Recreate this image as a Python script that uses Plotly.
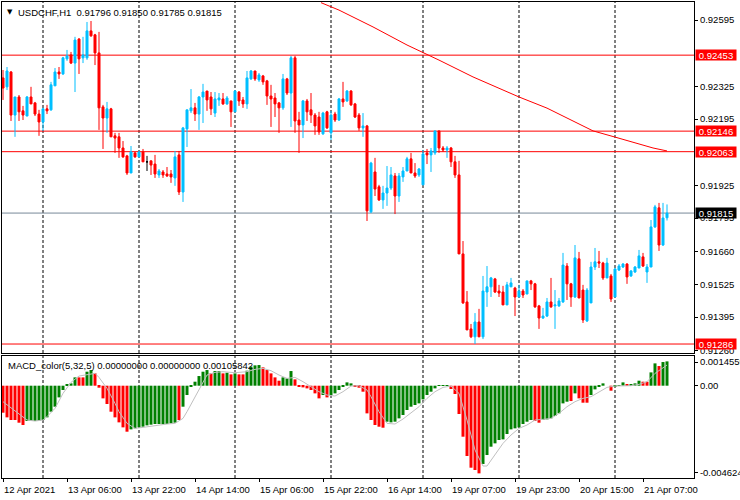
import plotly.graph_objects as go

# ---------------- data ----------------
symbol_title = "USDCHF,H1  0.91796 0.91850 0.91785 0.91815"
macd_title = "MACD_color(5,32,5) 0.00000000 0.00000000 0.00105842"

opens = [
0.92361, 0.92325, 0.92385, 0.92211, 0.92284, 0.92228, 0.92207, 0.92284, 0.92260, 0.92215,
0.92183, 0.92236, 0.92232, 0.92329, 0.92385, 0.92377, 0.92438, 0.92454, 0.92421, 0.92518,
0.92442, 0.92442, 0.92551, 0.92535, 0.92462, 0.92244, 0.92199, 0.92236, 0.92127, 0.92123,
0.92078, 0.92046, 0.91977, 0.92058, 0.92042, 0.92062, 0.92022, 0.92026, 0.92013, 0.91969,
0.91981, 0.91973, 0.91973, 0.91957, 0.92050, 0.91900, 0.92155, 0.92228, 0.92240, 0.92215,
0.92284, 0.92308, 0.92284, 0.92219, 0.92272, 0.92276, 0.92256, 0.92268, 0.92224, 0.92304,
0.92272, 0.92256, 0.92357, 0.92389, 0.92353, 0.92369, 0.92349, 0.92288, 0.92280, 0.92260,
0.92240, 0.92357, 0.92300, 0.92442, 0.92191, 0.92171, 0.92268, 0.92232, 0.92211, 0.92203,
0.92135, 0.92224, 0.92139, 0.92215, 0.92191, 0.92276, 0.92268, 0.92308, 0.92256, 0.92211,
0.92159, 0.92167, 0.91820, 0.91981, 0.91921, 0.91868, 0.91896, 0.91916, 0.91965, 0.91884,
0.91961, 0.91985, 0.92034, 0.91977, 0.91969, 0.91929, 0.92058, 0.92050, 0.92058, 0.92147,
0.92078, 0.92070, 0.92078, 0.92022, 0.91969, 0.91650, 0.91456, 0.91347, 0.91315, 0.91375,
0.91315, 0.91496, 0.91517, 0.91549, 0.91500, 0.91496, 0.91444, 0.91517, 0.91512, 0.91476,
0.91500, 0.91488, 0.91541, 0.91529, 0.91440, 0.91391, 0.91399, 0.91456, 0.91440, 0.91440,
0.91456, 0.91601, 0.91529, 0.91476, 0.91630, 0.91504, 0.91379, 0.91452, 0.91597, 0.91618,
0.91613, 0.91553, 0.91561, 0.91476, 0.91585, 0.91597, 0.91609, 0.91561, 0.91577, 0.91593,
0.91638, 0.91577, 0.91597, 0.91759, 0.91836, 0.91686, 0.91796]

highs = [
0.92393, 0.92405, 0.92389, 0.92284, 0.92292, 0.92248, 0.92288, 0.92325, 0.92264, 0.92232,
0.92240, 0.92252, 0.92345, 0.92401, 0.92405, 0.92446, 0.92474, 0.92466, 0.92527, 0.92522,
0.92527, 0.92587, 0.92591, 0.92539, 0.92547, 0.92252, 0.92264, 0.92240, 0.92139, 0.92139,
0.92106, 0.92050, 0.92086, 0.92062, 0.92066, 0.92074, 0.92046, 0.92026, 0.92050, 0.91993,
0.91989, 0.92001, 0.91989, 0.92066, 0.92066, 0.92163, 0.92232, 0.92316, 0.92260, 0.92288,
0.92337, 0.92308, 0.92304, 0.92304, 0.92300, 0.92300, 0.92288, 0.92268, 0.92312, 0.92308,
0.92284, 0.92389, 0.92393, 0.92389, 0.92381, 0.92373, 0.92353, 0.92333, 0.92300, 0.92264,
0.92377, 0.92361, 0.92450, 0.92450, 0.92224, 0.92272, 0.92276, 0.92300, 0.92219, 0.92224,
0.92224, 0.92228, 0.92228, 0.92224, 0.92280, 0.92345, 0.92312, 0.92312, 0.92260, 0.92219,
0.92219, 0.92171, 0.92022, 0.92038, 0.91929, 0.91925, 0.92005, 0.92001, 0.91977, 0.91977,
0.92001, 0.92042, 0.92058, 0.92017, 0.91997, 0.92070, 0.92074, 0.92078, 0.92147, 0.92147,
0.92086, 0.92086, 0.92082, 0.92046, 0.92026, 0.91702, 0.91500, 0.91367, 0.91411, 0.91428,
0.91561, 0.91601, 0.91557, 0.91553, 0.91525, 0.91521, 0.91537, 0.91553, 0.91517, 0.91525,
0.91508, 0.91541, 0.91545, 0.91533, 0.91444, 0.91432, 0.91472, 0.91553, 0.91504, 0.91472,
0.91654, 0.91613, 0.91533, 0.91686, 0.91658, 0.91525, 0.91512, 0.91618, 0.91674, 0.91662,
0.91618, 0.91634, 0.91569, 0.91593, 0.91609, 0.91613, 0.91613, 0.91585, 0.91601, 0.91666,
0.91654, 0.91609, 0.91787, 0.91848, 0.91856, 0.91856, 0.91850]

lows = [
0.92272, 0.92312, 0.92187, 0.92123, 0.92187, 0.92191, 0.92207, 0.92256, 0.92207, 0.92127,
0.92147, 0.92215, 0.92228, 0.92329, 0.92357, 0.92373, 0.92430, 0.92417, 0.92304, 0.92377,
0.92421, 0.92434, 0.92527, 0.92413, 0.92151, 0.92074, 0.92139, 0.92123, 0.92058, 0.92038,
0.92038, 0.91969, 0.91977, 0.92038, 0.92042, 0.92022, 0.91985, 0.91969, 0.91957, 0.91957,
0.91957, 0.91961, 0.91937, 0.91925, 0.91888, 0.91860, 0.92082, 0.92219, 0.92187, 0.92151,
0.92179, 0.92228, 0.92211, 0.92203, 0.92248, 0.92252, 0.92252, 0.92163, 0.92224, 0.92248,
0.92240, 0.92236, 0.92353, 0.92349, 0.92345, 0.92333, 0.92252, 0.92163, 0.92203, 0.92139,
0.92232, 0.92292, 0.92163, 0.92139, 0.92058, 0.92118, 0.92187, 0.92179, 0.92131, 0.92131,
0.92131, 0.92155, 0.92110, 0.92183, 0.92187, 0.92244, 0.92264, 0.92248, 0.92199, 0.92147,
0.92123, 0.91783, 0.91815, 0.91884, 0.91864, 0.91832, 0.91844, 0.91908, 0.91811, 0.91860,
0.91941, 0.91985, 0.91977, 0.91957, 0.91961, 0.91929, 0.92013, 0.91981, 0.92050, 0.92058,
0.92062, 0.92038, 0.92001, 0.91957, 0.91650, 0.91448, 0.91343, 0.91310, 0.91286, 0.91315,
0.91306, 0.91436, 0.91476, 0.91492, 0.91476, 0.91444, 0.91444, 0.91517, 0.91399, 0.91476,
0.91472, 0.91488, 0.91504, 0.91432, 0.91347, 0.91387, 0.91395, 0.91432, 0.91347, 0.91436,
0.91452, 0.91464, 0.91436, 0.91472, 0.91472, 0.91371, 0.91375, 0.91452, 0.91585, 0.91593,
0.91545, 0.91553, 0.91456, 0.91476, 0.91581, 0.91593, 0.91529, 0.91557, 0.91573, 0.91593,
0.91597, 0.91533, 0.91597, 0.91755, 0.91662, 0.91682, 0.91785]

closes = [
0.92320, 0.92389, 0.92211, 0.92284, 0.92224, 0.92211, 0.92284, 0.92256, 0.92215, 0.92183,
0.92236, 0.92228, 0.92333, 0.92385, 0.92377, 0.92442, 0.92450, 0.92421, 0.92514, 0.92438,
0.92454, 0.92551, 0.92531, 0.92462, 0.92240, 0.92199, 0.92236, 0.92123, 0.92118, 0.92078,
0.92042, 0.91977, 0.92062, 0.92042, 0.92062, 0.92022, 0.92022, 0.92009, 0.91973, 0.91985,
0.91969, 0.91965, 0.91961, 0.92042, 0.91900, 0.92159, 0.92232, 0.92240, 0.92215, 0.92284,
0.92304, 0.92272, 0.92236, 0.92276, 0.92280, 0.92256, 0.92280, 0.92224, 0.92308, 0.92268,
0.92256, 0.92361, 0.92389, 0.92357, 0.92373, 0.92345, 0.92288, 0.92276, 0.92256, 0.92240,
0.92357, 0.92300, 0.92442, 0.92187, 0.92171, 0.92268, 0.92224, 0.92211, 0.92167, 0.92143,
0.92219, 0.92159, 0.92211, 0.92191, 0.92276, 0.92264, 0.92308, 0.92252, 0.92203, 0.92159,
0.92167, 0.91824, 0.92017, 0.91912, 0.91868, 0.91896, 0.91916, 0.91969, 0.91884, 0.91965,
0.91985, 0.92034, 0.91977, 0.91965, 0.91993, 0.92054, 0.92050, 0.92066, 0.92147, 0.92078,
0.92070, 0.92078, 0.92022, 0.91969, 0.91650, 0.91452, 0.91343, 0.91315, 0.91375, 0.91315,
0.91500, 0.91517, 0.91553, 0.91496, 0.91492, 0.91444, 0.91525, 0.91533, 0.91476, 0.91500,
0.91484, 0.91541, 0.91529, 0.91436, 0.91391, 0.91399, 0.91456, 0.91436, 0.91444, 0.91460,
0.91605, 0.91529, 0.91476, 0.91634, 0.91472, 0.91383, 0.91504, 0.91597, 0.91618, 0.91613,
0.91553, 0.91613, 0.91468, 0.91589, 0.91601, 0.91609, 0.91557, 0.91581, 0.91597, 0.91642,
0.91601, 0.91597, 0.91759, 0.91840, 0.91686, 0.91795, 0.91815]

# moving average (red line), read at points along the line
ma_idx = [79.5, 84, 92.5, 101, 109, 117.5, 129, 136, 141, 147.5, 153, 162.5, 166]
ma_val = [0.92665, 0.92635, 0.92567, 0.92494, 0.92433, 0.92365, 0.92284, 0.92239,
          0.92199, 0.92147, 0.92122, 0.92078, 0.92066]

# horizontal levels
red_levels = [0.92453, 0.92146, 0.92063, 0.91286]
bid_level = 0.91815

# MACD histogram
macd_hist = [
-0.001355, -0.001589, -0.001723, -0.001723, -0.001857, -0.001974, -0.001773, -0.001773, -0.001773, -0.001773,
-0.001723, -0.001589, -0.001305, -0.001054, -0.000586, -0.000217, 0.000067, 0.000117, 0.000418, 0.000418,
0.000418, 0.000703, 0.000786, 0.000619, -0.000100, -0.000636, -0.000920, -0.001305, -0.001589, -0.001840,
-0.002091, -0.002309, -0.002192, -0.002141, -0.002091, -0.002058, -0.001991, -0.001957, -0.001924, -0.001924,
-0.001924, -0.001924, -0.001890, -0.001857, -0.001723, -0.001054, -0.000468, -0.000050, 0.000201, 0.000485,
0.000703, 0.000786, 0.000619, 0.000736, 0.000736, 0.000619, 0.000652, 0.000569, 0.000619, 0.000569,
0.000569, 0.000753, 0.000954, 0.001021, 0.001037, 0.000920, 0.000786, 0.000619, 0.000418, 0.000251,
0.000418, 0.000368, 0.000736, 0.000318, -0.000050, -0.000084, -0.000134, -0.000217, -0.000385, -0.000636,
-0.000468, -0.000586, -0.000468, -0.000385, -0.000217, -0.000050, 0.000167, 0.000117, -0.000017, -0.000100,
-0.000301, -0.001389, -0.001723, -0.001974, -0.002058, -0.002108, -0.001807, -0.001840, -0.001807, -0.001640,
-0.001472, -0.001221, -0.001054, -0.000970, -0.000887, -0.000686, -0.000468, -0.000301, -0.000134, 0.000033,
0.000033, 0.000033, -0.000167, -0.000418, -0.001422, -0.002560, -0.003530, -0.004116, -0.004233, -0.004400,
-0.003932, -0.003480, -0.003062, -0.002894, -0.002727, -0.002694, -0.002426, -0.002192, -0.002141, -0.002091,
-0.001924, -0.001807, -0.001723, -0.001773, -0.001857, -0.001723, -0.001690, -0.001640, -0.001522, -0.001389,
-0.000887, -0.000803, -0.000770, -0.000385, -0.000636, -0.000853, -0.000853, -0.000468, -0.000184, -0.000017,
0.000117, 0.000000, -0.000251, -0.000050, 0.000033, 0.000167, 0.000067, 0.000067, 0.000117, 0.000251,
0.000201, 0.000201, 0.000669, 0.001121, 0.000987, 0.001188, 0.001221]

macd_color_codes = "".join([
    "rrrrrr", "ggggggggggggg", "rr", "gg", "rrrrrrrrr", "gggggggggggg", "r", "ggggggg",
    "r", "gg", "r", "g", "r", "g", "rr", "gggg", "rrrrr", "ggg", "rrrrrrr", "g", "r",
    "gggggg", "rrrrrrrr", "gggggggggggggggg", "rrrrrrrr", "ggggggggggggg", "rr",
    "ggggggg", "r", "g", "rrr", "gggg", "rr", "ggg", "r", "ggg", "rr", "gg", "r", "gg"])

signal_idx = [0, 6, 8, 10, 11, 13, 15, 17, 19, 21, 23, 24, 26, 28, 29, 31, 33, 35, 38, 41,
              43, 45, 46, 48, 49, 51, 53, 55, 58, 61, 63, 65, 67, 69, 71, 73, 75, 77, 79, 81,
              83, 85, 87, 89, 91, 92, 94, 96, 98, 100, 102, 104, 106, 108, 110, 112, 114, 116, 118, 120,
              121, 123, 125, 127, 129, 131, 133, 135, 137, 139, 141, 143, 145, 147, 149, 151, 153, 155, 157, 159,
              161, 163, 166]
signal_val = [-0.000803, -0.001723, -0.001773, -0.001723, -0.001556, -0.001138, -0.000385, 0.000167, 0.000485, 0.000535,
              0.000619, 0.000418, -0.000134, -0.000887, -0.001305, -0.001890, -0.002141, -0.002091, -0.001991, -0.001924,
              -0.001890, -0.001640, -0.001305, -0.000552, -0.000217, 0.000535, 0.000669, 0.000703, 0.000652, 0.000703,
              0.000820, 0.000870, 0.000753, 0.000535, 0.000368, 0.000418, 0.000201, -0.000050, -0.000301, -0.000468,
              -0.000519, -0.000301, -0.000017, 0.000000, -0.000217, -0.000552, -0.001305, -0.001890, -0.001924, -0.001673,
              -0.001355, -0.001054, -0.000636, -0.000301, -0.000084, -0.000017, -0.000385, -0.001723, -0.003229, -0.004032,
              -0.004032, -0.003480, -0.002894, -0.002476, -0.002141, -0.001974, -0.001723, -0.001690, -0.001640, -0.001389,
              -0.001054, -0.000803, -0.000636, -0.000552, -0.000335, -0.000084, -0.000017, 0.000000, 0.000000, 0.000067,
              0.000201, 0.000619, 0.001037]

# time axis
time_label_idx = [0, 16, 32, 48, 64, 80, 96, 112, 128, 144, 160]
time_labels = ["12 Apr 2021", "13 Apr 06:00", "13 Apr 22:00", "14 Apr 14:00", "15 Apr 06:00",
               "15 Apr 22:00", "16 Apr 14:00", "19 Apr 07:00", "19 Apr 23:00", "20 Apr 15:00",
               "21 Apr 07:00"]
day_start_idx = [10, 34, 58, 82, 105, 129, 153]

price_ticks = [0.92595, 0.92325, 0.92195, 0.91925, 0.91795, 0.91660, 0.91525, 0.91395, 0.91260]
price_tick_text = ["0.92595", "0.92325", "0.92195", "0.91925", "0.91795", "0.91660", "0.91525",
                   "0.91395", "0.91260"]
macd_ticks = [0.00119, 0.0, -0.00438]
macd_tick_text = ["0.0014559", "0.00", "-0.004624"]

# ---------------- styling ----------------
BULL = "#00BFFF"
BEAR = "#FF0000"
FONT = "Liberation Sans, Arial, sans-serif"
FS = 9.5

n = len(closes)
xs = list(range(n))
codes = (macd_color_codes + "g" * n)[:n]
bar_colors = ["#008000" if c == "g" else "#FF0000" for c in codes]

norm = [i for i in xs if opens[i] != closes[i]]
doji = [i for i in xs if opens[i] == closes[i]]

fig = go.Figure()
fig.add_trace(go.Candlestick(
    x=[xs[i] for i in norm], open=[opens[i] for i in norm], high=[highs[i] for i in norm],
    low=[lows[i] for i in norm], close=[closes[i] for i in norm],
    increasing=dict(line=dict(color=BULL, width=1), fillcolor=BULL),
    decreasing=dict(line=dict(color=BEAR, width=1), fillcolor=BEAR),
    whiskerwidth=0, showlegend=False, xaxis="x", yaxis="y"))
if doji:
    fig.add_trace(go.Candlestick(
        x=[xs[i] for i in doji], open=[opens[i] for i in doji], high=[highs[i] for i in doji],
        low=[lows[i] for i in doji], close=[closes[i] for i in doji],
        increasing=dict(line=dict(color="black", width=1), fillcolor="black"),
        decreasing=dict(line=dict(color="black", width=1), fillcolor="black"),
        whiskerwidth=0, showlegend=False, xaxis="x", yaxis="y"))
fig.add_trace(go.Scatter(x=ma_idx, y=ma_val, mode="lines", line=dict(color="#FF0000", width=1),
                         showlegend=False, xaxis="x", yaxis="y"))

fig.add_trace(go.Bar(x=xs, y=macd_hist, marker=dict(color=bar_colors, line=dict(width=0)),
                     showlegend=False, xaxis="x2", yaxis="y2"))
fig.add_trace(go.Scatter(x=signal_idx, y=signal_val, mode="lines",
                         line=dict(color="#C0C0C0", width=1), showlegend=False,
                         xaxis="x2", yaxis="y2"))

shapes = []
for d in day_start_idx:
    for yr in ("y domain", "y2 domain"):
        shapes.append(dict(type="line", xref="x", yref=yr, x0=d, x1=d, y0=0, y1=1,
                           line=dict(color="black", width=1, dash="3px,2px"), layer="below"))
for lv in red_levels:
    shapes.append(dict(type="line", xref="x domain", yref="y", x0=0, x1=1, y0=lv, y1=lv,
                       line=dict(color="#FF0000", width=1), layer="below"))
shapes.append(dict(type="line", xref="x domain", yref="y", x0=0, x1=1, y0=bid_level, y1=bid_level,
                   line=dict(color="#778899", width=1), layer="below"))

annotations = []
for lv in red_levels:
    annotations.append(dict(xref="paper", yref="y", x=1, y=lv, xanchor="left", yanchor="middle",
                            xshift=1, text=f"{lv:.5f}", showarrow=False, bgcolor="#FF0000",
                            width=40, height=10, align="center",
                            font=dict(family=FONT, size=FS, color="white"), borderpad=0))
annotations.append(dict(xref="paper", yref="y", x=1, y=bid_level, xanchor="left", yanchor="middle",
                        xshift=1, text=f"{bid_level:.5f}", showarrow=False, bgcolor="black",
                        width=40, height=10, align="center",
                        font=dict(family=FONT, size=FS, color="white"), borderpad=0))
annotations.append(dict(xref="paper", yref="paper", x=0, y=1, xanchor="left", yanchor="top",
                        xshift=3, yshift=-4, text="▼", showarrow=False,
                        font=dict(family="DejaVu Sans", size=7, color="black")))
annotations.append(dict(xref="paper", yref="paper", x=0, y=1, xanchor="left", yanchor="top",
                        xshift=14, yshift=-3, text=symbol_title, showarrow=False,
                        font=dict(family=FONT, size=FS, color="black")))
annotations.append(dict(xref="paper", yref="y2 domain", x=0, y=1, xanchor="left", yanchor="top",
                        xshift=4, yshift=-2, text=macd_title, showarrow=False,
                        font=dict(family=FONT, size=FS, color="black")))

xr = [-0.25, 172.75]
axis_common = dict(showgrid=False, zeroline=False, showline=True, mirror=True,
                   linecolor="black", linewidth=1, automargin=False)

fig.update_layout(
    width=740, height=500,
    margin=dict(l=2, r=46, t=2, b=22, autoexpand=False),
    paper_bgcolor="white", plot_bgcolor="white",
    showlegend=False, bargap=0.25, boxgap=0.5, boxgroupgap=0,
    font=dict(family=FONT, size=FS, color="black"),
    xaxis=dict(domain=[0, 1], range=xr, anchor="y", showticklabels=False, ticks="",
               rangeslider=dict(visible=False), **axis_common),
    yaxis=dict(domain=[0.2626, 1], range=[0.912497, 0.926677], side="right", anchor="x",
               tickvals=price_ticks, ticktext=price_tick_text, ticks="outside", ticklen=3,
               tickcolor="black", tickfont=dict(family=FONT, size=FS, color="black"),
               **axis_common),
    xaxis2=dict(domain=[0, 1], range=xr, anchor="y2", matches="x",
                tickvals=time_label_idx, ticktext=time_labels, ticks="outside", ticklen=3,
                tickcolor="black", ticklabelposition="outside right", ticklabelstandoff=3,
                tickfont=dict(family=FONT, size=FS, color="black"),
                rangeslider=dict(visible=False), **axis_common),
    yaxis2=dict(domain=[0, 0.2563], range=[-0.004633, 0.001491], side="right", anchor="x2",
                tickvals=macd_ticks, ticktext=macd_tick_text, ticks="outside", ticklen=3,
                tickcolor="black", tickfont=dict(family=FONT, size=FS, color="black"),
                **axis_common),
    shapes=shapes, annotations=annotations,
)

fig.write_html("out.html", config={"displayModeBar": False},
               post_script="document.body.style.margin='0px';document.body.style.padding='0px';"
                           "document.body.style.overflow='hidden';")
